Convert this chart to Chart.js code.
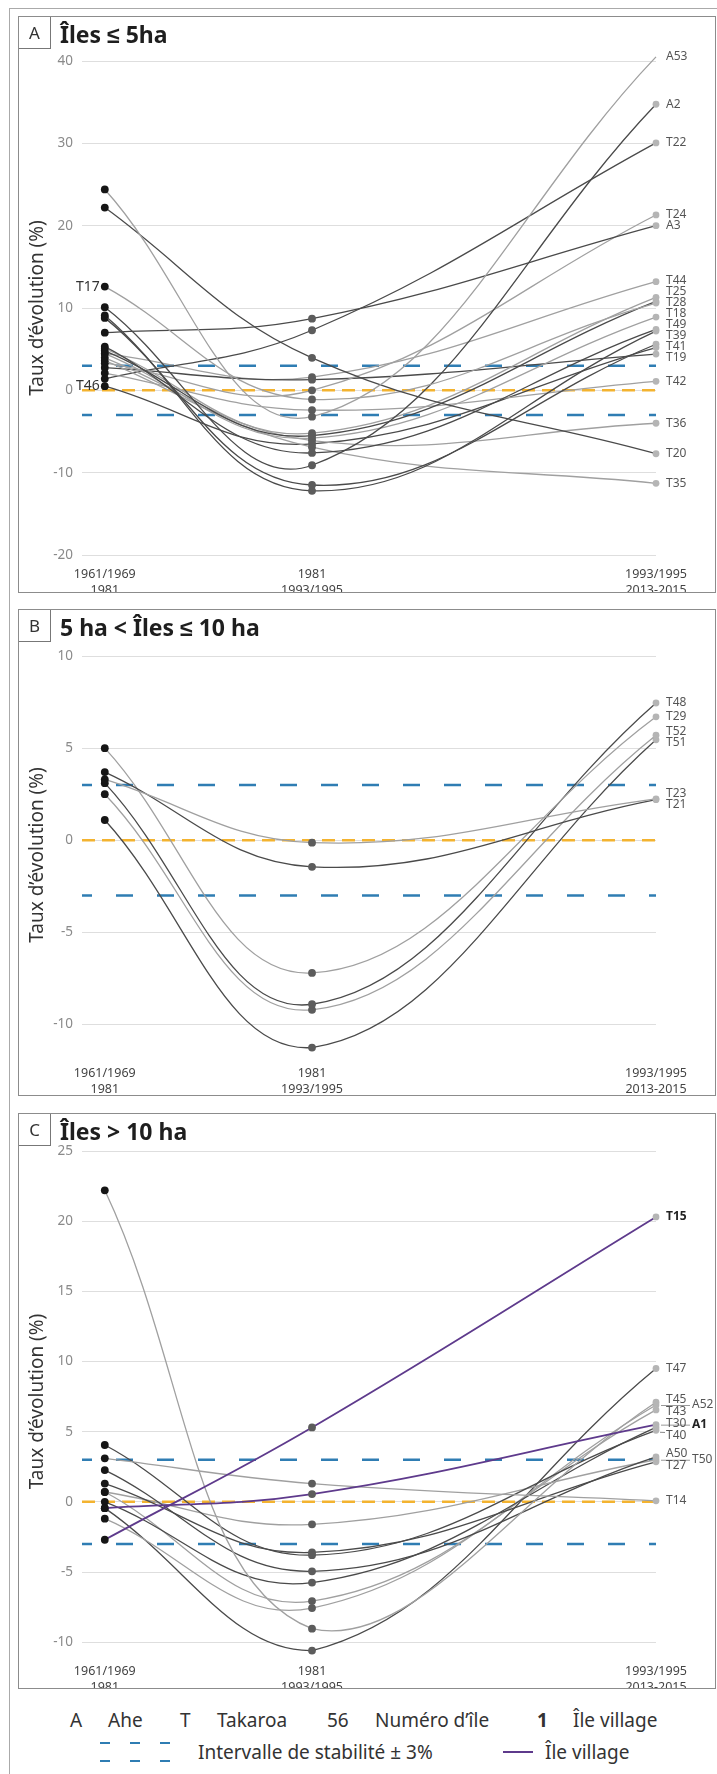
<!DOCTYPE html>
<html>
<head>
<meta charset="utf-8">
<script src="https://cdn.jsdelivr.net/npm/chart.js@4.4.1/dist/chart.umd.min.js"></script>
<style>
  body { margin: 0; width: 717px; height: 1774px; overflow: hidden; background: #fff;
         font-family: "Noto Sans", sans-serif; color: #333; position: relative; }
  .outer { position: absolute; left: 9px; top: 8px; width: 760px; height: 1800px; border: 1px solid #aaa; }
  .panel { position: absolute; left: 18px; width: 698px; box-sizing: border-box; border: 1px solid #8c8c8c; background: #fff; }
  .panel canvas { position: absolute; left: 0; top: 0; }
  .letter { position: absolute; left: 0; top: 0; width: 31px; height: 31px; border-right: 1px solid #777;
            border-bottom: 1px solid #777; text-align: center; line-height: 31px; font-size: 17px; color: #333; }
  .title { position: absolute; left: 41px; top: 1px; line-height: 32px; font-size: 23px; font-weight: bold; color: #1e1e1e; }
  .leg { position: absolute; font-size: 19px; line-height: 24px; color: #333; white-space: nowrap; }
</style>
</head>
<body>
<div class="outer"></div>

<div class="panel" style="top:16px;height:577px">
  <canvas id="chartA" width="696" height="575"></canvas>
  <div class="letter">A</div>
  <div class="title">Îles ≤ 5ha</div>
</div>

<div class="panel" style="top:609px;height:487px">
  <canvas id="chartB" width="696" height="485"></canvas>
  <div class="letter">B</div>
  <div class="title">5 ha &lt; Îles ≤ 10 ha</div>
</div>

<div class="panel" style="top:1113px;height:576px">
  <canvas id="chartC" width="696" height="574"></canvas>
  <div class="letter">C</div>
  <div class="title">Îles &gt; 10 ha</div>
</div>

<div class="leg" style="left:70px;top:1708px">A</div>
<div class="leg" style="left:108px;top:1708px">Ahe</div>
<div class="leg" style="left:180px;top:1708px">T</div>
<div class="leg" style="left:217px;top:1708px">Takaroa</div>
<div class="leg" style="left:327px;top:1708px">56</div>
<div class="leg" style="left:375px;top:1708px">Numéro d’île</div>
<div class="leg" style="left:537px;top:1708px;font-weight:bold">1</div>
<div class="leg" style="left:573px;top:1708px">Île village</div>
<div style="position:absolute;left:100px;top:1742px;width:77px;height:2px;background:repeating-linear-gradient(90deg,#2f7db3 0 10px,transparent 10px 30px)"></div>
<div style="position:absolute;left:100px;top:1760px;width:77px;height:2px;background:repeating-linear-gradient(90deg,#2f7db3 0 10px,transparent 10px 30px)"></div>
<div class="leg" style="left:198px;top:1740px">Intervalle de stabilité ± 3%</div>
<div style="position:absolute;left:503px;top:1751px;width:30px;height:2px;background:#5e3a8c"></div>
<div class="leg" style="left:545px;top:1740px">Île village</div>

<script>
// periods compared (x axis)
const periodLabels = [['1961/1969', '1981'], ['1981', '1993/1995'], ['1993/1995', '2013-2015']];
const stabilityLimit = 3;

// A : islands <= 5 ha (evolution rate in %, per period)
const aIslands = ['A53', 'T20', 'T17', 'A2', 'T39', 'T41', 'A3', 'T49', 'T25', 'T28', 'T18', 'T36', 'T35', 'T24', 'T19', 'T42', 'T22', 'T46', 'T44'];
const aFirst   = [24.4, 22.2, 12.6, 10.1, 9.1, 8.8, 7.0, 5.3, 5.05, 4.8, 4.45, 3.95, 3.6, 3.3, 2.75, 2.1, 1.4, 0.5, 4.45];
const aSecond  = [-3.2, 3.95, -1.1, -9.1, -12.2, -11.5, 8.7, -7.6, -5.2, -5.5, -5.8, -6.1, -6.9, 0, 1.3, -2.4, 7.3, -6.5, 1.6];
const aThird   = [40.5, -7.7, 10.6, 34.75, 7.2, 5.6, 20.0, 7.4, 11.3, 10.8, 8.9, -4.0, -11.3, 21.3, 4.4, 1.1, 30.05, 5.2, 13.2];
const aTone    = ['light', 'dark', 'light', 'dark', 'dark', 'dark', 'dark', 'dark', 'light', 'dark', 'light', 'light', 'light', 'light', 'dark', 'light', 'dark', 'dark', 'light'];

// B : 5 ha < islands <= 10 ha
const bIslands = ['T23', 'T21', 'T29', 'T48', 'T52', 'T51'];
const bFirst   = [3.3, 3.7, 5.0, 3.1, 2.5, 1.1];
const bSecond  = [-0.13, -1.44, -7.2, -8.9, -9.2, -11.25];
const bThird   = [2.25, 2.2, 6.7, 7.45, 5.7, 5.45];
const bTone    = ['light', 'dark', 'light', 'dark', 'light', 'dark'];

// C : islands > 10 ha
const cIslands = ['T45', 'T14', 'T40', 'A50', 'T27', 'T50', 'T30', 'T43', 'A52', 'T47', 'A1', 'T15'];
const cFirst   = [22.2, 3.1, 4.05, 2.26, 1.3, 0.7, 0, 0.7, -1.2, -0.45, -0.45, -2.7];
const cSecond  = [-9.04, 1.3, -3.8, -4.95, -3.6, -1.6, -5.75, -7.07, -7.57, -10.6, 0.55, 5.3];
const cThird   = [7.1, 0.07, 5.1, 3.2, 2.85, 3.0, 5.3, 6.55, 6.9, 9.5, 5.5, 20.3];
const cTone    = ['light', 'light', 'dark', 'dark', 'dark', 'light', 'dark', 'light', 'light', 'dark', 'village', 'village'];

const periodPositions = [1, 2, 3.66];
const toneColors = { dark: '#4a4a4a', light: '#a0a0a0', village: '#5e3a8c' };

Chart.defaults.font.family = '"Noto Sans", sans-serif';

const stabilityPlugin = {
	id: 'stability',
	beforeDatasetsDraw: (chart) => {
		const { ctx, chartArea, scales } = chart;
		const y = scales.y;
		ctx.save();
		ctx.lineWidth = 2.5;
		ctx.strokeStyle = '#2f7db3';
		ctx.setLineDash([17, 24]);
		ctx.lineDashOffset = 7;
		[stabilityLimit, -stabilityLimit].forEach((v) => {
			const py = y.getPixelForValue(v);
			ctx.beginPath();
			ctx.moveTo(chartArea.left, py);
			ctx.lineTo(chartArea.right, py);
			ctx.stroke();
		});
		ctx.strokeStyle = '#f3b330';
		ctx.setLineDash([13, 7]);
		ctx.lineDashOffset = 0;
		const y0 = y.getPixelForValue(0);
		ctx.beginPath();
		ctx.moveTo(chartArea.left, y0);
		ctx.lineTo(chartArea.right, y0);
		ctx.stroke();
		ctx.restore();
	}
}

// pushes crowded labels apart, keeping each group centred on its points
const spreadLabels = (items, gap) => {
	items.sort((a, b) => a.y - b.y);
	let groups = items.map((it) => ({ items: [it], top: it.y }));
	let changed = true;
	while (changed) {
		changed = false;
		for (let i = 0; i < groups.length - 1; i++) {
			const g = groups[i], h = groups[i + 1];
			if (g.top + g.items.length * gap > h.top) {
				const merged = g.items.concat(h.items);
				const mean = merged.reduce((s, it) => s + it.y, 0) / merged.length;
				groups.splice(i, 2, { items: merged, top: mean - (merged.length - 1) * gap / 2 });
				changed = true;
				break;
			}
		}
	}
	groups.forEach((g) => g.items.forEach((it, k) => { it.ly = g.top + k * gap; }));
}

const makeLabelPlugin = (names, tones, cfg) => ({
	id: 'islandLabels',
	afterDatasetsDraw: (chart) => {
		const { ctx } = chart;
		ctx.save();
		ctx.textBaseline = 'middle';
		const stacked = [];
		names.forEach((name, i) => {
			const pts = chart.getDatasetMeta(i).data;
			const bold = tones[i] === 'village';
			if (cfg.left.includes(name)) {
				ctx.font = '14px "Noto Sans"';
				ctx.fillStyle = '#333';
				ctx.textAlign = 'right';
				ctx.fillText(name, pts[0].x - 5, pts[0].y);
			} else if (cfg.side.includes(name)) {
				const p = pts[2];
				ctx.strokeStyle = '#999';
				ctx.lineWidth = 1;
				ctx.beginPath();
				ctx.moveTo(p.x + 5, p.y + 0.5);
				ctx.lineTo(p.x + 34, p.y + 0.5);
				ctx.stroke();
				ctx.font = (bold ? 'bold ' : '') + '12px "Noto Sans"';
				ctx.fillStyle = bold ? '#222' : '#555';
				ctx.textAlign = 'left';
				ctx.fillText(name, p.x + 36, p.y);
			} else {
				stacked.push({ name, x: pts[2].x, y: pts[2].y, bold });
			}
		});
		spreadLabels(stacked, cfg.gap);
		stacked.forEach((it) => {
			if (cfg.leaders && Math.abs(it.ly - it.y) > 5) {
				ctx.strokeStyle = '#888';
				ctx.lineWidth = 1;
				ctx.beginPath();
				ctx.moveTo(it.x + 4, it.y + 2);
				ctx.lineTo(it.x + 9, it.ly - 3);
				ctx.stroke();
			}
			ctx.font = (it.bold ? 'bold ' : '') + '12px "Noto Sans"';
			ctx.fillStyle = it.bold ? '#222' : '#555';
			ctx.textAlign = 'left';
			ctx.fillText(it.name, it.x + 10, it.ly);
		});
		ctx.restore();
	}
})

const buildDatasets = (names, first, second, third, tones) => {
	const ds = names.map((name, i) => ({
		label: name,
		data: [first[i], second[i], third[i]].map((v, k) => ({ x: periodPositions[k], y: v })),
		borderColor: toneColors[tones[i]],
		borderWidth: tones[i] === 'village' ? 1.8 : 1.3,
		tension: 0.4,
		clip: false,
		pointRadius: [3.9, 3.9, 3.4],
		pointBorderWidth: 0,
		pointBackgroundColor: ['#161616', '#5c5c5c', '#b5b5b5'],
		pointBorderColor: ['#161616', '#5c5c5c', '#b5b5b5'],
		order: tones[i] === 'village' ? 0 : 1
	}));
	return ds;
}

const makeChart = (id, names, first, second, third, tones, layout, labelCfg) => {
	const ctx = document.getElementById(id).getContext('2d');
	return new Chart(ctx, {
		type: 'line',
		data: { datasets: buildDatasets(names, first, second, third, tones) },
		options: {
			responsive: false,
			animation: false,
			devicePixelRatio: 1,
			events: [],
			layout: { padding: { top: layout.top, right: layout.right, left: 0, bottom: 0 } },
			plugins: { legend: { display: false }, tooltip: { enabled: false } },
			scales: {
				x: {
					type: 'linear',
					min: 0.89,
					max: 3.66,
					afterBuildTicks: (scale) => { scale.ticks = periodPositions.map((v) => ({ value: v })); },
					ticks: {
						callback: (v, i) => periodLabels[i],
						autoSkip: false,
						maxRotation: 0,
						padding: 4,
						color: '#444',
						font: { size: 12.5, lineHeight: 1.25 }
					},
					grid: { display: false },
					border: { display: false },
					afterFit: (scale) => { scale.height = layout.xHeight; }
				},
				y: {
					min: layout.min,
					max: layout.max,
					ticks: { stepSize: layout.step, includeBounds: false, padding: 9, color: '#8a8a8a', font: { size: 13.5 } },
					grid: { color: '#dedede', drawTicks: false },
					border: { display: false },
					title: { display: true, text: 'Taux d\u2019évolution (%)', color: '#333', font: { size: 19 }, padding: { top: 7, bottom: 0 } },
					afterFit: (scale) => { scale.width = 63; }
				}
			}
		},
		plugins: [stabilityPlugin, makeLabelPlugin(names, tones, labelCfg)]
	});
}

makeChart('chartA', aIslands, aFirst, aSecond, aThird, aTone,
	{ top: 44, right: 59, xHeight: 37, min: -20, max: 40, step: 10 },
	{ left: ['T17', 'T46'], side: [], gap: 11, leaders: false });

makeChart('chartB', bIslands, bFirst, bSecond, bThird, bTone,
	{ top: 46, right: 59, xHeight: 41, min: -11.6, max: 10, step: 5 },
	{ left: [], side: [], gap: 11, leaders: false });

makeChart('chartC', cIslands, cFirst, cSecond, cThird, cTone,
	{ top: 37, right: 59, xHeight: 36, min: -10.7, max: 25, step: 5 },
	{ left: [], side: ['A52', 'A1', 'T50'], gap: 12, leaders: true });
</script>
</body>
</html>
